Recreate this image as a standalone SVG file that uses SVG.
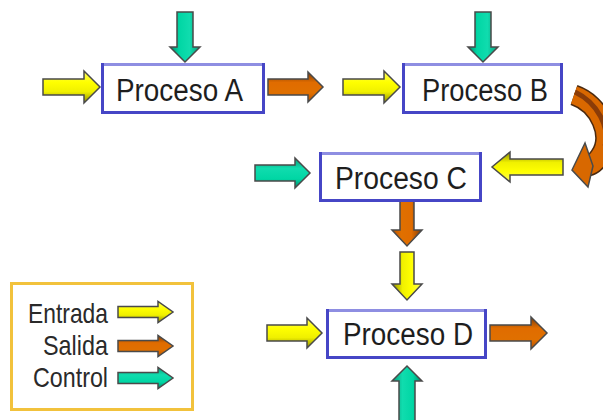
<svg xmlns="http://www.w3.org/2000/svg" xmlns:xlink="http://www.w3.org/1999/xlink" width="603" height="420" viewBox="0 0 603 420">
  <style>
    .box { fill: #ffffff; stroke: #4646c6; stroke-width: 3; }
    .boxtop { stroke: #8e8ee2; stroke-width: 3; }
    .lbl { font-family: "Liberation Sans", Arial, sans-serif; font-size: 31px; fill: #1e1e1e; }
    .leg { font-family: "Liberation Sans", Arial, sans-serif; font-size: 28px; fill: #2a2a2a; }
    .arr { stroke: #4a4a4a; stroke-width: 1.5; stroke-linejoin: miter; }
    .yel { fill: url(#gYel); }
    .ora { fill: url(#gOra); }
    .tea { fill: url(#gTea); }
    .legbox { fill: #ffffff; stroke: #f2c23c; stroke-width: 3; }
  </style>
  <defs>
    <!-- shading across the arrow width (rotates with each arrow) -->
    <linearGradient id="gYel" x1="0" y1="0" x2="0" y2="1">
      <stop offset="0" stop-color="#fafa60"/>
      <stop offset="0.35" stop-color="#ffff00"/>
      <stop offset="0.65" stop-color="#f0f000"/>
      <stop offset="1" stop-color="#8c8c00"/>
    </linearGradient>
    <linearGradient id="gOra" x1="0" y1="0" x2="0" y2="1">
      <stop offset="0" stop-color="#7a3a08"/>
      <stop offset="0.35" stop-color="#e06c00"/>
      <stop offset="0.7" stop-color="#e07000"/>
      <stop offset="1" stop-color="#b85000"/>
    </linearGradient>
    <linearGradient id="gTea" x1="0" y1="0" x2="0" y2="1">
      <stop offset="0" stop-color="#0a9a78"/>
      <stop offset="0.35" stop-color="#10dcae"/>
      <stop offset="0.7" stop-color="#00d6a4"/>
      <stop offset="1" stop-color="#008466"/>
    </linearGradient>
    <!-- block arrows pointing right, tail centre at the origin -->
    <path id="a48" d="M0,-7 H32 V-15 L48,0 L32,15 V7 H0 Z"/>
    <path id="a50" d="M0,-8 H35 V-15 L50,0 L35,15 V8 H0 Z"/>
    <path id="a55" d="M0,-8 H40 V-15 L55,0 L40,15 V8 H0 Z"/>
    <path id="a57" d="M0,-8 H41 V-16 L57,0 L41,16 V8 H0 Z"/>
    <path id="a71" d="M0,-8 H53 V-15 L71,0 L53,15 V8 H0 Z"/>
    <path id="aLeg" d="M0,-5.5 H40 V-10.5 L55,0 L40,10.5 V5.5 H0 Z"/>
  </defs>

  <!-- connectors -->
  <g id="connectors">
    <use href="#a57" class="arr yel" transform="translate(43,87)"/>
    <use href="#a50" class="arr tea" transform="translate(185,12) rotate(90)"/>
    <use href="#a55" class="arr ora" transform="translate(268,87)"/>
    <use href="#a57" class="arr yel" transform="translate(343,87)"/>
    <use href="#a50" class="arr tea" transform="translate(483,12) rotate(90)"/>
    <!-- curved output from B back towards C -->
    <g id="curved">
      <path d="M574,95 C600,104 614,136 600,156 C596,162 592,165 588,166" fill="none" stroke="#4a2a10" stroke-width="21"/>
      <path d="M574,95 C600,104 614,136 600,156 C596,162 592,165 588,166" fill="none" stroke="#d96800" stroke-width="18"/>
      <path d="M575,92 C598,103 610,128 605,146" fill="none" stroke="#8a3c08" stroke-width="5"/>
      <polygon points="585,143 572,170 588,187 593,166" fill="#d86800" stroke="#4a4a4a" stroke-width="1.5"/>
    </g>
    <use href="#a71" class="arr yel" transform="translate(563,167) rotate(180)"/>
    <use href="#a55" class="arr tea" transform="translate(255,173)"/>
    <use href="#a48" class="arr ora" transform="translate(407,198) rotate(90)"/>
    <use href="#a48" class="arr yel" transform="translate(407,252) rotate(90)"/>
    <use href="#a55" class="arr yel" transform="translate(267,333)"/>
    <use href="#a57" class="arr ora" transform="translate(490,333)"/>
    <use href="#a55" class="arr tea" transform="translate(407,421) rotate(-90)"/>
  </g>

  <!-- process nodes -->
  <g id="procA">
    <rect class="box" x="102.5" y="64.5" width="161" height="48"/>
    <line class="boxtop" x1="104" y1="64.5" x2="262" y2="64.5"/>
    <text class="lbl" x="116" y="101" textLength="127" lengthAdjust="spacingAndGlyphs">Proceso A</text>
  </g>
  <g id="procB">
    <rect class="box" x="403.5" y="64.5" width="158" height="48"/>
    <line class="boxtop" x1="405" y1="64.5" x2="560" y2="64.5"/>
    <text class="lbl" x="422" y="101" textLength="126" lengthAdjust="spacingAndGlyphs">Proceso B</text>
  </g>
  <g id="procC">
    <rect class="box" x="320.5" y="153.5" width="160" height="47"/>
    <line class="boxtop" x1="322" y1="153.5" x2="479" y2="153.5"/>
    <text class="lbl" x="335" y="189" textLength="132" lengthAdjust="spacingAndGlyphs">Proceso C</text>
  </g>
  <g id="procD">
    <rect class="box" x="327.5" y="310.5" width="158" height="47"/>
    <line class="boxtop" x1="329" y1="310.5" x2="484" y2="310.5"/>
    <text class="lbl" x="343" y="345" textLength="130" lengthAdjust="spacingAndGlyphs">Proceso D</text>
  </g>

  <!-- legend -->
  <g id="legend">
    <rect class="legbox" x="11.5" y="283.5" width="181" height="126"/>
    <text class="leg" x="28" y="323" textLength="80" lengthAdjust="spacingAndGlyphs">Entrada</text>
    <text class="leg" x="43" y="355" textLength="65" lengthAdjust="spacingAndGlyphs">Salida</text>
    <text class="leg" x="33" y="387" textLength="75" lengthAdjust="spacingAndGlyphs">Control</text>
    <use href="#aLeg" class="arr yel" transform="translate(118,312)"/>
    <use href="#aLeg" class="arr ora" transform="translate(118,346)"/>
    <use href="#aLeg" class="arr tea" transform="translate(118,378)"/>
  </g>
</svg>
